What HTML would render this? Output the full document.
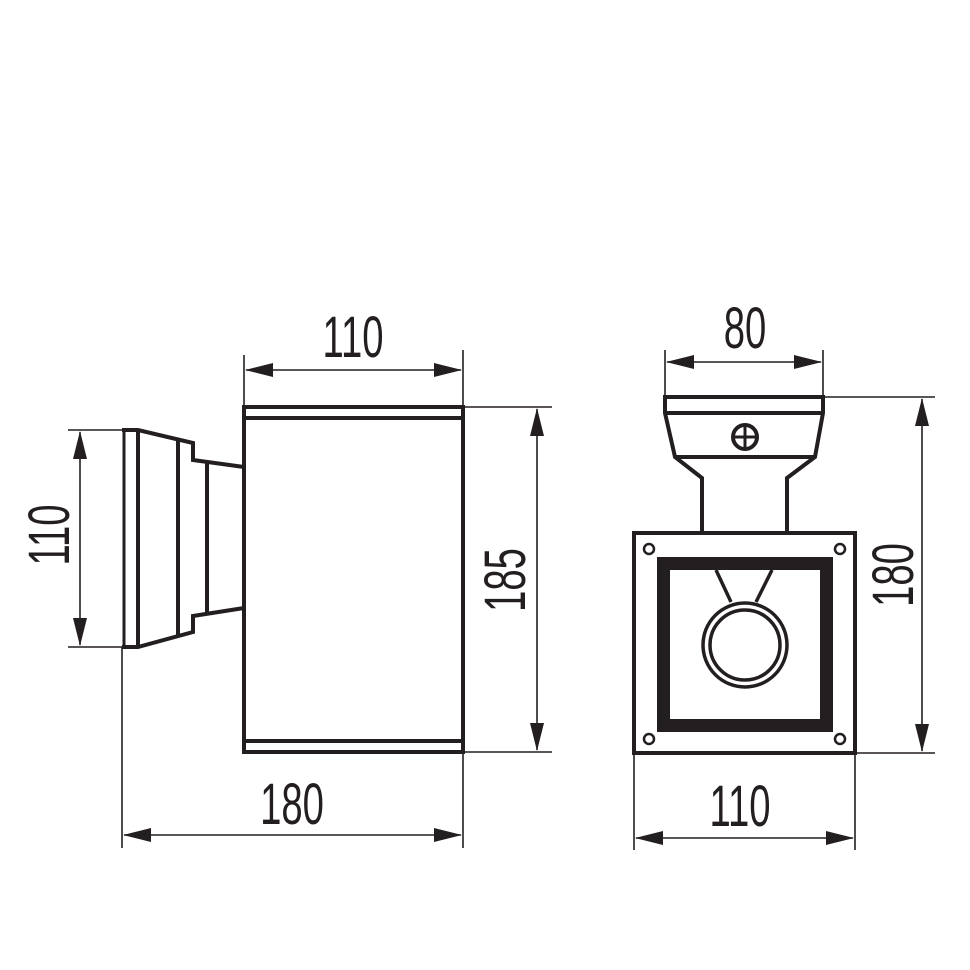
<!DOCTYPE html>
<html><head><style>
html,body{margin:0;padding:0;background:#fff;}
svg{display:block}
text{font-family:"Liberation Sans",sans-serif;font-size:58px;fill:#231f20;}
</style></head><body>
<svg width="970" height="970" viewBox="0 0 970 970" xmlns="http://www.w3.org/2000/svg">
<defs>
<marker id="a" markerWidth="28" markerHeight="14" refX="27" refY="7" orient="auto-start-reverse" markerUnits="userSpaceOnUse">
<path d="M0,0 L28,7 L0,14 Z" fill="#231f20"/>
</marker>
</defs>
<g stroke="#231f20" fill="none">
<rect x="244" y="407" width="219" height="345" stroke-width="4"/>
<line x1="244" y1="418" x2="463" y2="418" stroke-width="4"/>
<line x1="244" y1="741" x2="463" y2="741" stroke-width="4"/>
<path d="M122,430 L138,430 L193,443 L193,460 L244,467 M244,608 L193,616 L193,632 L138,647 L122,647" stroke-width="4" stroke-linejoin="miter"/>
<line x1="124" y1="430" x2="124" y2="647" stroke-width="3"/>
<line x1="138" y1="430" x2="138" y2="647" stroke-width="4"/>
<line x1="178" y1="440" x2="178" y2="637" stroke-width="4"/>
<line x1="207" y1="462" x2="207" y2="612" stroke-width="4"/>
<g stroke-width="1.6">
<line x1="244" y1="355" x2="244" y2="407"/>
<line x1="463" y1="350" x2="463" y2="407"/>
<line x1="246" y1="370" x2="461" y2="370" marker-start="url(#a)" marker-end="url(#a)"/>
<line x1="68" y1="430" x2="122" y2="430"/>
<line x1="68" y1="647" x2="122" y2="647"/>
<line x1="80" y1="432" x2="80" y2="645" marker-start="url(#a)" marker-end="url(#a)"/>
<line x1="463" y1="407" x2="552" y2="407"/>
<line x1="463" y1="752" x2="552" y2="752"/>
<line x1="537" y1="409" x2="537" y2="750" marker-start="url(#a)" marker-end="url(#a)"/>
<line x1="122" y1="647" x2="122" y2="848"/>
<line x1="463" y1="752" x2="463" y2="848"/>
<line x1="124" y1="835" x2="461" y2="835" marker-start="url(#a)" marker-end="url(#a)"/>
</g>
<path d="M702,533 L702,478 L675,457 L665,413 L665,397 L823,397 L823,413 L815,457 L787,478 L787,533" stroke-width="4" stroke-linejoin="miter"/>
<line x1="665" y1="413" x2="823" y2="413" stroke-width="4"/>
<line x1="675" y1="457" x2="815" y2="457" stroke-width="4"/>
<circle cx="745" cy="437" r="12" stroke-width="4"/>
<line x1="733" y1="437" x2="757" y2="437" stroke-width="3"/>
<line x1="745" y1="425" x2="745" y2="449" stroke-width="3"/>
<rect x="634" y="533" width="221" height="220" stroke-width="4"/>
<rect x="663.5" y="563.5" width="163" height="162" stroke-width="13"/>
<circle cx="649" cy="549" r="5" stroke-width="2.5"/>
<circle cx="840" cy="549" r="5" stroke-width="2.5"/>
<circle cx="649" cy="739" r="5" stroke-width="2.5"/>
<circle cx="840" cy="739" r="5" stroke-width="2.5"/>
<line x1="716" y1="570" x2="731" y2="602" stroke-width="3.5"/>
<line x1="772" y1="570" x2="756" y2="602" stroke-width="3.5"/>
<circle cx="745" cy="645" r="42" stroke-width="3.5"/>
<circle cx="745" cy="645" r="35" stroke-width="3.5"/>
<g stroke-width="1.6">
<line x1="665" y1="350" x2="665" y2="397"/>
<line x1="823" y1="350" x2="823" y2="397"/>
<line x1="667" y1="362" x2="821" y2="362" marker-start="url(#a)" marker-end="url(#a)"/>
<line x1="823" y1="397" x2="935" y2="397"/>
<line x1="855" y1="753" x2="935" y2="753"/>
<line x1="922" y1="399" x2="922" y2="751" marker-start="url(#a)" marker-end="url(#a)"/>
<line x1="634" y1="753" x2="634" y2="850"/>
<line x1="855" y1="753" x2="855" y2="850"/>
<line x1="636" y1="838" x2="853" y2="838" marker-start="url(#a)" marker-end="url(#a)"/>
</g>
</g>
<g stroke="none">
<text transform="translate(353,357) scale(0.66,1)" text-anchor="middle">110</text>
<text transform="translate(745,348) scale(0.66,1)" text-anchor="middle">80</text>
<text transform="translate(292,824) scale(0.66,1)" text-anchor="middle">180</text>
<text transform="translate(740,826) scale(0.66,1)" text-anchor="middle">110</text>
<text transform="translate(69,535) rotate(-90) scale(0.66,1)" text-anchor="middle">110</text>
<text transform="translate(525,580) rotate(-90) scale(0.66,1)" text-anchor="middle">185</text>
<text transform="translate(913,575) rotate(-90) scale(0.66,1)" text-anchor="middle">180</text>
</g>
</svg>
</body></html>
